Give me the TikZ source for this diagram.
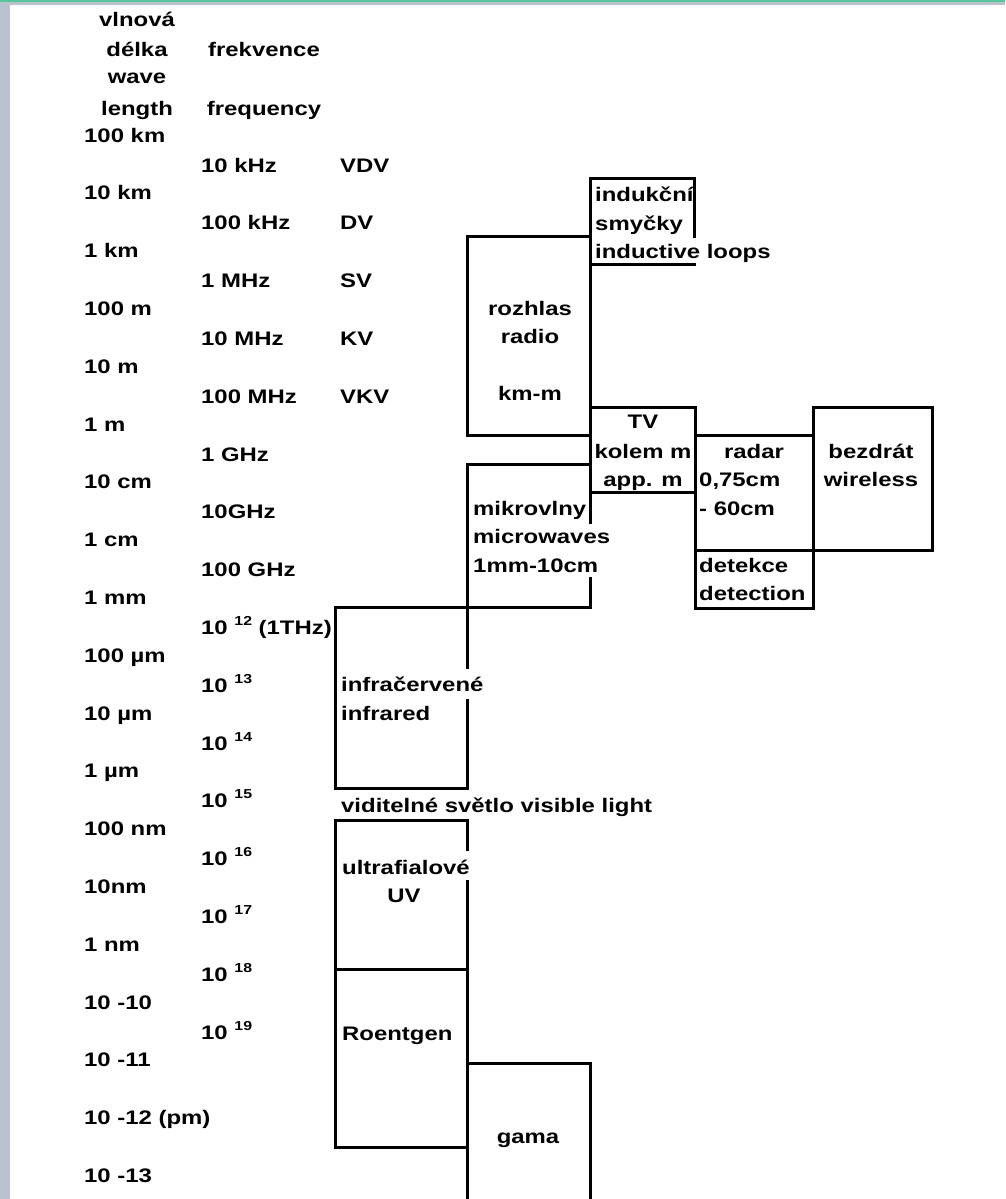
\documentclass[tikz,border=0pt]{standalone}
\usepackage{fontspec}
\setmainfont{Liberation Sans}[FakeStretch=1.22]
\definecolor{edgegray}{HTML}{B8C3CD}
\definecolor{edgeteal}{HTML}{58C69C}
\newcommand\supnum[1]{\raisebox{9pt}{\fontsize{13}{13}\selectfont #1}}
\begin{document}
\begin{tikzpicture}[x=1pt,y=-1pt,
  lbl/.style={inner sep=0pt, anchor=base west, font=\fontsize{19.6}{29}\selectfont\bfseries},
  clbl/.style={lbl, anchor=base},
  frame/.style={line width=3pt, line cap=rect, line join=miter}]
\useasboundingbox (0,0) rectangle (1005,1199);
% page frame
\fill[white] (0,0) rectangle (1005,1199);
\fill[edgegray] (0,0) rectangle (10,1199);
\fill[edgegray] (0,0) rectangle (1005,5);
\fill[edgeteal] (0,0) rectangle (1005,1.6);

% headers
\node[clbl] (h1) at (137,27) {vlnová};
\node[clbl] (h2) at (137,57) {délka};
\node[clbl] (h3) at (264,57) {frekvence};
\node[clbl] (h4) at (137,84) {wave};
\node[clbl] (h5) at (137,115) {length};
\node[clbl] (h6) at (264,115) {frequency};

% wavelength column
\foreach \t [count=\i from 0] in {100 km,10 km,1 km,100 m,10 m,1 m,10 cm,1 cm,1 mm,100 µm,10 µm,1 µm,100 nm,10nm,1 nm,10 -10,10 -11,10 -12 (pm),10 -13}
  \node[lbl] (w\i) at (84,142+57.8*\i) {\t};

% frequency column
\foreach \t [count=\i from 0] in {10 kHz,100 kHz,1 MHz,10 MHz,100 MHz,1 GHz,10GHz,100 GHz,10 \supnum{12} (1THz),10 \supnum{13},10 \supnum{14},10 \supnum{15},10 \supnum{16},10 \supnum{17},10 \supnum{18},10 \supnum{19}}
  \node[lbl] (f\i) at (201,172+57.8*\i) {\t};

% bands
\foreach \t [count=\i from 0] in {VDV,DV,SV,KV,VKV}
  \node[lbl] (b\i) at (340,172+57.8*\i) {\t};

% frame lines
\draw[frame] (590,178) -- (694,178) -- (694,236);
\draw[frame] (590,264) -- (694,264);
\draw[frame] (590,178) -- (590,522);
\draw[frame] (590,578) -- (590,607);
\draw[frame] (590,236) -- (467,236) -- (467,435) -- (590,435);
\draw[frame] (590,407) -- (695,407) -- (695,608);
\draw[frame] (590,492) -- (695,492);
\draw[frame] (695,435) -- (813,435);
\draw[frame] (813,407) -- (813,608);
\draw[frame] (695,550) -- (932,550);
\draw[frame] (695,608) -- (813,608);
\draw[frame] (813,407) -- (932,407) -- (932,550);
\draw[frame] (590,464) -- (467,464) -- (467,667);
\draw[frame] (467,700) -- (467,788) -- (335,788) -- (335,607) -- (590,607);
\draw[frame] (467,849) -- (467,820) -- (335,820) -- (335,1147) -- (467,1147);
\draw[frame] (467,881) -- (467,1199);
\draw[frame] (335,969) -- (467,969);
\draw[frame] (467,1063) -- (590,1063) -- (590,1199);

% box texts
\node[lbl] (ind1) at (595,201) {indukční};
\node[lbl] (ind2) at (595,230) {smyčky};
\node[lbl] (ind3) at (595,258) {inductive loops};
\node[clbl] (rad1) at (530,315) {rozhlas};
\node[clbl] (rad2) at (530,343) {radio};
\node[clbl] (rad3) at (530,400) {km-m};
\node[clbl] (tv1) at (643,428) {TV};
\node[clbl] (tv2) at (643,458) {kolem m};
\node[clbl] (tv3) at (643,486) {app. m};
\node[clbl] (rd1) at (754,458) {radar};
\node[lbl] (rd2) at (699,486) {0,75cm};
\node[lbl] (rd3) at (699,515) {- 60cm};
\node[clbl] (wl1) at (871,458) {bezdrát};
\node[clbl] (wl2) at (871,486) {wireless};
\node[lbl] (dt1) at (699,572) {detekce};
\node[lbl] (dt2) at (699,600) {detection};
\node[lbl] (mw1) at (473,515) {mikrovlny};
\node[lbl] (mw2) at (473,543) {microwaves};
\node[lbl] (mw3) at (473,572) {1mm-10cm};
\node[lbl] (ir1) at (341,691) {infračervené};
\node[lbl] (ir2) at (341,720) {infrared};
\node[lbl] (vis) at (341,812) {viditelné světlo visible light};
\node[lbl] (uv1) at (342,874) {ultrafialové};
\node[clbl] (uv2) at (404,902) {UV};
\node[lbl] (xr) at (342,1040) {Roentgen};
\node[clbl] (gm) at (528,1143) {gama};
\end{tikzpicture}
\end{document}
